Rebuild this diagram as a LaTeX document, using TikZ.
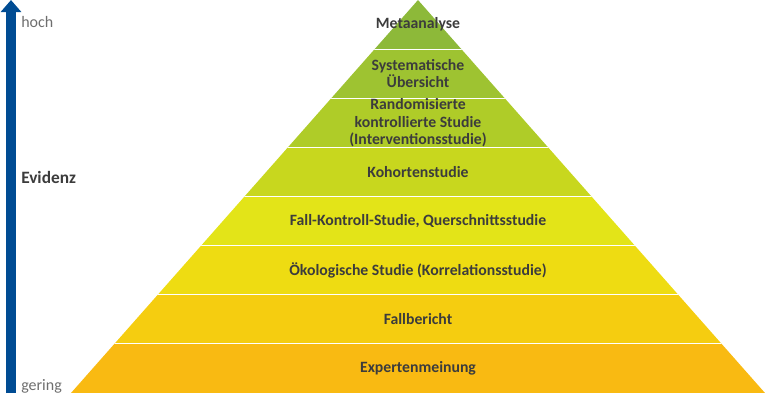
\documentclass[tikz,border=0pt]{standalone}
\usepackage{fontspec}
\setmainfont{Carlito}
\usepackage{tikz}
\usetikzlibrary{arrows.meta}
\definecolor{meta}{RGB}{141,185,57}
\definecolor{sysue}{RGB}{158,195,49}
\definecolor{rct}{RGB}{175,204,40}
\definecolor{kohorte}{RGB}{200,215,30}
\definecolor{fallko}{RGB}{227,228,24}
\definecolor{oeko}{RGB}{238,220,18}
\definecolor{fallber}{RGB}{245,205,16}
\definecolor{experte}{RGB}{249,186,18}
\definecolor{pfeil}{RGB}{0,76,147}
\definecolor{txt}{RGB}{60,60,60}
\definecolor{grau}{RGB}{110,110,110}
\tikzset{stufe/.style={font=\bfseries\fontsize{11.8}{13.2}\selectfont, text=txt, align=center, inner sep=0pt}}

\begin{document}
\begin{tikzpicture}[x=0.75pt, y=-0.75pt]
        \useasboundingbox (0,0) rectangle (768,405);
        % pyramid bands
        \begin{scope}
        \clip (71,393) -- (418,0) -- (765,393) -- cycle;
        \foreach \c [count=\i] in {meta,sysue,rct,kohorte,fallko,oeko,fallber,experte}
            \fill[\c] (60,{(\i-1)*49.125}) rectangle (770,{\i*49.125});
        \foreach \i in {1,...,7}
            \draw[white, line width=0.9pt] (60,{\i*49.125}) -- (770,{\i*49.125});
        \end{scope}

        \node[stufe] at (418, 24.5)   (meta) {Metaanalyse};
        \node[stufe] at (418, 73.7)   (sys)  {Systematische\\Übersicht};
        \node[stufe] at (418, 122.8)  (rct)  {Randomisierte\\kontrollierte Studie\\(Interventionsstudie)};
        \node[stufe] at (418, 171.9)  (koh)  {Kohortenstudie};
        \node[stufe] at (418, 221)    (fk)   {Fall-Kontroll-Studie, Querschnittsstudie};
        \node[stufe] at (418, 270.2)  (oek)  {Ökologische Studie (Korrelationsstudie)};
        \node[stufe] at (418, 319.3)  (fb)   {Fallbericht};
        \node[stufe] at (418, 368.4)  (exp)  {Expertenmeinung};

        % evidence axis
        \coordinate (lo) at (11,393);
        \coordinate (hi) at (11,0);
        \draw[pfeil, line width=7.5pt, -{Triangle[length=9pt, width=15pt]}] (lo) -- (hi);
        \node[anchor=west, inner sep=0pt, text=grau, font=\fontsize{12}{14}\selectfont] at (21,22)  (hoch)  {hoch};
        \node[anchor=west, inner sep=0pt, text=txt, font=\bfseries\fontsize{13}{15}\selectfont] at (21,177) (evi) {Evidenz};
        \node[anchor=west, inner sep=0pt, text=grau, font=\fontsize{12}{14}\selectfont] at (21,386) (gering) {gering};
    \end{tikzpicture}
\end{document}
